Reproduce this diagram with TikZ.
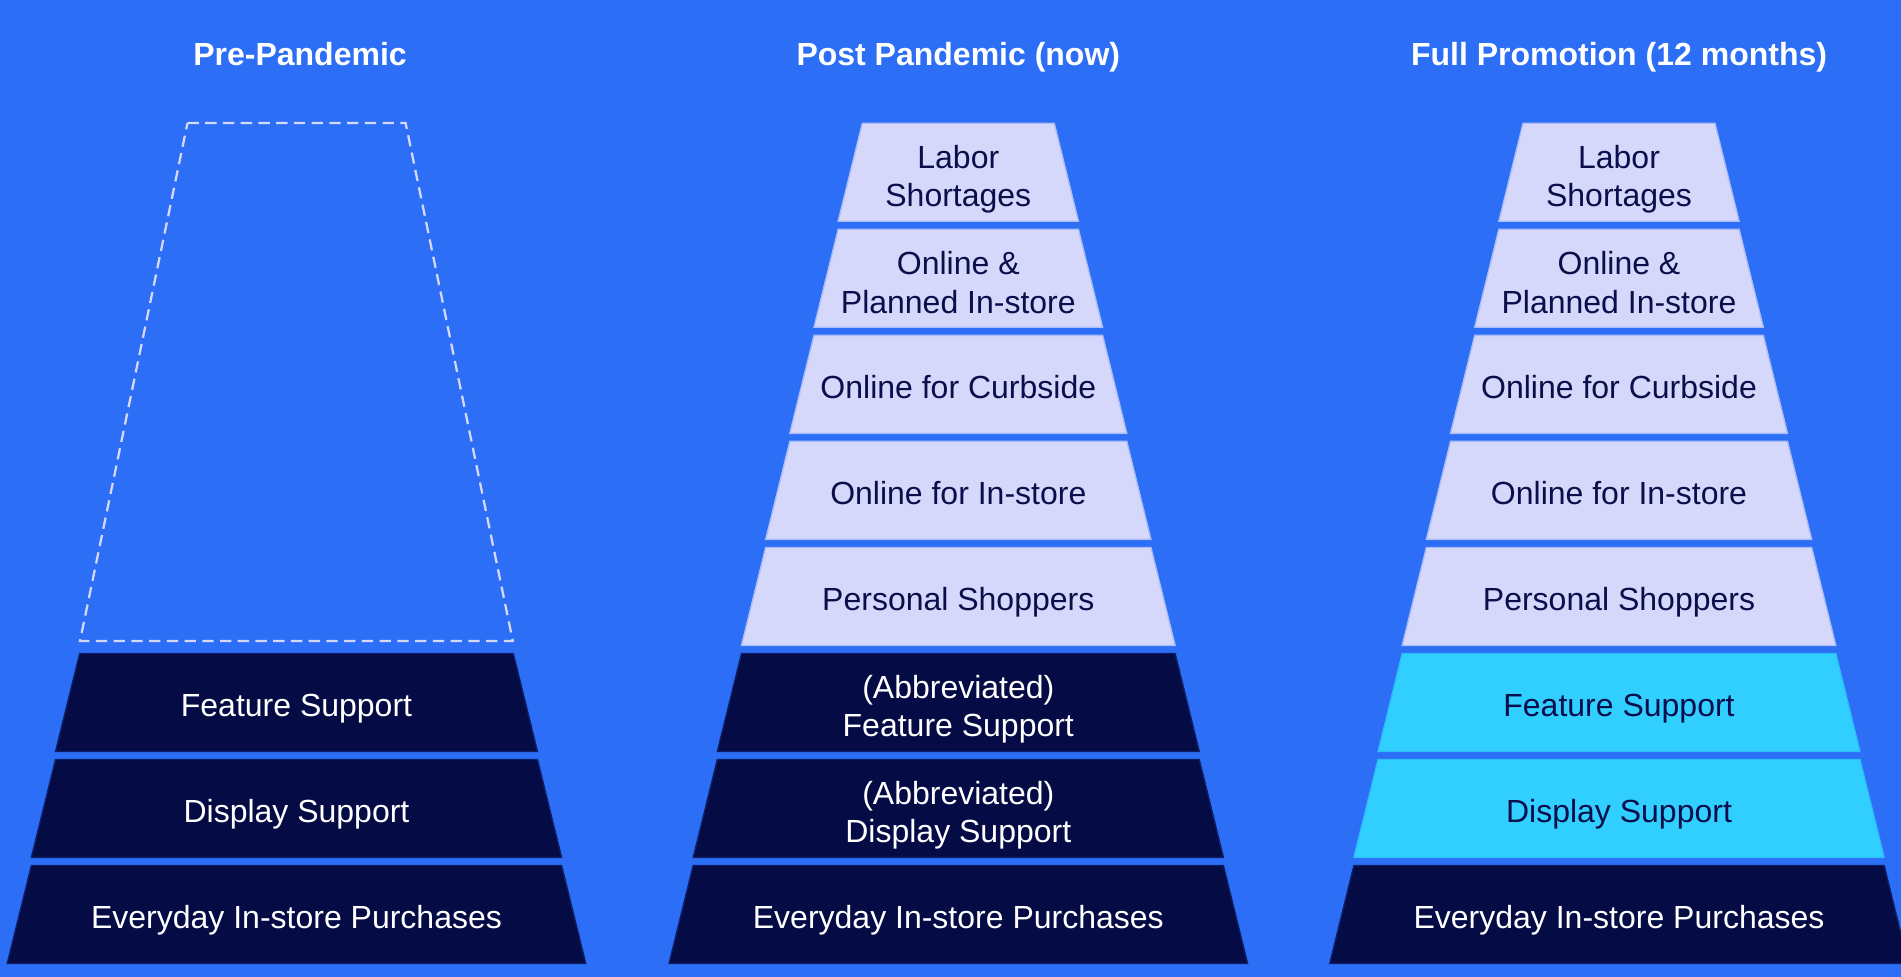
\documentclass[tikz,border=0pt]{standalone}
\usepackage{fontspec}
\setmainfont{Liberation Sans}

\definecolor{bg}{RGB}{44,110,245}
\definecolor{navy}{RGB}{5,11,69}
\definecolor{lav}{RGB}{213,216,250}
\definecolor{aqua}{RGB}{48,207,255}
\definecolor{ink}{RGB}{10,14,74}

% fixed-height strut so every label is centred on its cap height
\newcommand\tstrut{\rule[-0.184em]{0pt}{1.084em}}

% one slice of a pyramid: #1 label name, #2 centre x, #3 level (0 = top),
% #4 slice style, #5 label style, #6 label text
\newcommand\tier[6]{%
  \pgfmathsetmacro\ytop{123.3+106.03*#3}%
  \pgfmathsetmacro\ybot{\ytop+98}%
  \pgfmathsetmacro\wtop{96+24.16*#3}%
  \pgfmathsetmacro\wbot{\wtop+24.16}%
  \path[#4] ({#2-\wtop},\ytop) -- ({#2+\wtop},\ytop) -- ({#2+\wbot},\ybot) -- ({#2-\wbot},\ybot) -- cycle;
  \node[#5] (#1) at (#2,\ytop+51.5) {#6};
}

\tikzset{
  navyslice/.style={fill=navy, draw=navy!80!bg, line width=1pt},
  lavslice/.style={fill=lav, draw=lav!75!bg, line width=1pt},
  aquaslice/.style={fill=aqua, draw=aqua!80!bg, line width=1pt},
  label/.style={inner sep=0pt, align=center, font=\fontsize{24}{28.8}\selectfont,
    execute at begin node=\tstrut, execute at end node=\tstrut},
  light label/.style={label, text=white},
  dark label/.style={label, text=ink},
  two lines/.style={yshift=-3.3pt},
  heading/.style={inner sep=0pt, anchor=base, text=white,
    font=\fontsize{24}{28.8}\selectfont\bfseries},
  ghost/.style={draw=lav, line width=1.7pt, dash pattern=on 8.5pt off 4.8pt}
}

\begin{document}
\begin{tikzpicture}[x=0.75pt,y=-0.75pt]
  \useasboundingbox (0,0) rectangle (1901,977);
  \clip (0,0) rectangle (1901,977);
  \fill[bg] (0,0) rectangle (1901,977);

  % column headings
  \node[heading] (hpre)  at (300,65.5)    {Pre-Pandemic};
  \node[heading] (hpost) at (958.3,65.5)  {Post Pandemic (now)};
  \node[heading] (hfull) at (1619,65.5)   {Full Promotion (12 months)};

  % pre-pandemic: empty upper part and three base slices
  \draw[ghost] (187.5,123) -- (405.6,123) -- (512.8,641) -- (80,641) -- cycle;
  \tier{pre5}{296.5}{5}{navyslice}{light label}{Feature Support}
  \tier{pre6}{296.5}{6}{navyslice}{light label}{Display Support}
  \tier{pre7}{296.5}{7}{navyslice}{light label}{Everyday In-store Purchases}

  % post pandemic
  \tier{post0}{958.3}{0}{lavslice}{dark label, two lines}{Labor\\Shortages}
  \tier{post1}{958.3}{1}{lavslice}{dark label, two lines}{Online \&\\Planned In-store}
  \tier{post2}{958.3}{2}{lavslice}{dark label}{Online for Curbside}
  \tier{post3}{958.3}{3}{lavslice}{dark label}{Online for In-store}
  \tier{post4}{958.3}{4}{lavslice}{dark label}{Personal Shoppers}
  \tier{post5}{958.3}{5}{navyslice}{light label, two lines}{(Abbreviated)\\Feature Support}
  \tier{post6}{958.3}{6}{navyslice}{light label, two lines}{(Abbreviated)\\Display Support}
  \tier{post7}{958.3}{7}{navyslice}{light label}{Everyday In-store Purchases}

  % full promotion
  \tier{full0}{1619}{0}{lavslice}{dark label, two lines}{Labor\\Shortages}
  \tier{full1}{1619}{1}{lavslice}{dark label, two lines}{Online \&\\Planned In-store}
  \tier{full2}{1619}{2}{lavslice}{dark label}{Online for Curbside}
  \tier{full3}{1619}{3}{lavslice}{dark label}{Online for In-store}
  \tier{full4}{1619}{4}{lavslice}{dark label}{Personal Shoppers}
  \tier{full5}{1619}{5}{aquaslice}{dark label}{Feature Support}
  \tier{full6}{1619}{6}{aquaslice}{dark label}{Display Support}
  \tier{full7}{1619}{7}{navyslice}{light label}{Everyday In-store Purchases}
\end{tikzpicture}
\end{document}
